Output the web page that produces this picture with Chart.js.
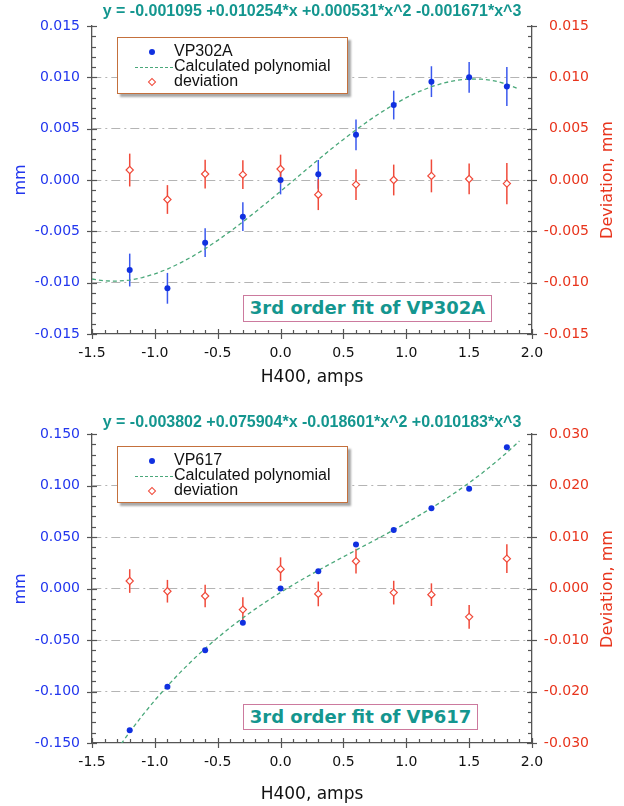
<!DOCTYPE html>
<html>
<head>
<meta charset="utf-8">
<script src="https://cdn.jsdelivr.net/npm/chart.js@4.4.1/dist/chart.umd.min.js"></script>
<style>
html,body{margin:0;padding:0;background:#fff;}
#wrap{position:relative;width:624px;height:806px;overflow:hidden;}
canvas{position:absolute;left:0;}
.legend{position:absolute;left:117px;width:231px;height:57px;box-sizing:border-box;border:1.5px solid #c4703c;background:#fff;box-shadow:3px 3px 2px #a8a8a8;font-family:"Liberation Sans",sans-serif;font-size:16px;color:#111;}
.row{position:absolute;left:0;width:100%;height:16px;}
.row .t{position:absolute;left:56px;top:-2px;line-height:18px;white-space:nowrap;}
.dot{position:absolute;left:31px;top:5px;width:6px;height:6px;border-radius:50%;background:#1030e0;}
.dash{position:absolute;left:17px;top:8px;width:38px;height:0;border-top:1.2px dashed #4aa87a;}
.dia{position:absolute;left:31px;top:5px;width:4px;height:4px;border:1.2px solid #f04a3a;background:#fff;transform:rotate(45deg);}
.note{position:absolute;left:243px;box-sizing:border-box;border:1.5px solid #cc7a9e;background:#fff;font:bold 18px "DejaVu Sans",sans-serif;color:#14968f;text-align:center;white-space:nowrap;}
.yt{position:absolute;width:200px;height:20px;line-height:20px;text-align:center;font:16px "DejaVu Sans",sans-serif;transform:rotate(-90deg);transform-origin:50% 50%;white-space:nowrap;}
</style>
</head>
<body>
<div id="wrap">
  <canvas id="c1" width="624" height="400" style="top:0"></canvas>
  <canvas id="c2" width="624" height="406" style="top:400px"></canvas>

  <div class="legend" style="top:37px">
    <div class="row" style="top:6px"><span class="dot"></span><span class="t">VP302A</span></div>
    <div class="row" style="top:21px"><span class="dash"></span><span class="t">Calculated polynomial</span></div>
    <div class="row" style="top:36px"><span class="dia"></span><span class="t">deviation</span></div>
  </div>
  <div class="legend" style="top:446px">
    <div class="row" style="top:6px"><span class="dot"></span><span class="t">VP617</span></div>
    <div class="row" style="top:21px"><span class="dash"></span><span class="t">Calculated polynomial</span></div>
    <div class="row" style="top:36px"><span class="dia"></span><span class="t">deviation</span></div>
  </div>

  <div class="note" style="top:295px;width:249px;height:27px;line-height:24px">3rd order fit of VP302A</div>
  <div class="note" style="top:704px;width:235px;height:26px;line-height:23px">3rd order fit of VP617</div>

  <div class="yt" style="left:-80px;top:170px;color:#2236ee">mm</div>
  <div class="yt" style="left:507px;top:170px;color:#e8341c">Deviation, mm</div>
  <div class="yt" style="left:-80px;top:579px;color:#2236ee">mm</div>
  <div class="yt" style="left:507px;top:579px;color:#e8341c">Deviation, mm</div>
</div>

<script>
// ---------- data ----------
const currents = [-1.2, -0.9, -0.6, -0.3, 0.0, 0.3, 0.6, 0.9, 1.2, 1.5, 1.8];

// chart 1 : VP302A
const vp302a      = [-0.00877, -0.01055, -0.0061, -0.00357, 0.0, 0.00055, 0.0044, 0.0073, 0.00958, 0.0100, 0.0091];
const vp302aErr   = [0.0016, 0.0015, 0.0014, 0.0014, 0.0014, 0.0014, 0.0015, 0.0014, 0.0015, 0.0015, 0.0019];
const dev302a     = [0.00097, -0.0019, 0.00058, 0.00052, 0.00107, -0.00143, -0.00045, 0.0, 0.0004, 0.0001, -0.00035];
const dev302aErr  = [0.0016, 0.0014, 0.0014, 0.0014, 0.0014, 0.0015, 0.0015, 0.0015, 0.0016, 0.0015, 0.0020];
const curveX302   = [-1.5,-1.4,-1.3,-1.2,-1.1,-1.0,-0.9,-0.8,-0.7,-0.6,-0.5,-0.4,-0.3,-0.2,-0.1,0.0,0.1,0.2,0.3,0.4,0.5,0.6,0.7,0.8,0.9,1.0,1.1,1.2,1.3,1.4,1.5,1.6,1.7,1.8,1.9];
const curve302    = [-0.009641,-0.009825,-0.009857,-0.009748,-0.009507,-0.009147,-0.008676,-0.008102,-0.007440,-0.006695,-0.005880,-0.005005,-0.004078,-0.003112,-0.002113,-0.001095,-0.000067,0.000964,0.001984,0.002985,0.003956,0.004887,0.005770,0.006592,0.007346,0.008019,0.008603,0.009088,0.009461,0.009717,0.009841,0.009826,0.009662,0.009337,0.008844];

// chart 2 : VP617
const vp617       = [-0.1377, -0.0955, -0.0600, -0.0332, 0.0, 0.0168, 0.0428, 0.0569, 0.0780, 0.0968, 0.1371];
const dev617      = [0.00145, -0.00053, -0.00145, -0.0041, 0.00375, -0.00105, 0.0053, -0.0008, -0.0012, -0.0055, 0.0058];
const dev617Err   = [0.0023, 0.0022, 0.0022, 0.0024, 0.0023, 0.0024, 0.0024, 0.0023, 0.0022, 0.0023, 0.0028];
const curveX617   = [-1.3,-1.2,-1.1,-1.0,-0.9,-0.8,-0.7,-0.6,-0.5,-0.4,-0.3,-0.2,-0.1,0.0,0.1,0.2,0.3,0.4,0.5,0.6,0.7,0.8,0.9,1.0,1.1,1.2,1.3,1.4,1.5,1.6,1.7,1.8,1.9];
const curve617    = [-0.156285,-0.139268,-0.123357,-0.108490,-0.094606,-0.081644,-0.069542,-0.058240,-0.047677,-0.037792,-0.028522,-0.019808,-0.011588,-0.003802,0.003612,0.010716,0.017570,0.024236,0.030773,0.037244,0.043710,0.050230,0.056868,0.063684,0.070739,0.078094,0.085809,0.093948,0.102570,0.111735,0.121507,0.131945,0.143111];

const xTicks = [-1.5, -1.0, -0.5, 0.0, 0.5, 1.0, 1.5, 2.0];
const title1 = "y = -0.001095 +0.010254*x +0.000531*x^2 -0.001671*x^3";
const title2 = "y = -0.003802 +0.075904*x -0.018601*x^2 +0.010183*x^3";

// ---------- styling ----------
const BLUE = '#1030e0', BLUE_ERR = '#3a58ee', RED = '#f04a3a', GREEN = '#4aa87a';
const AXIS = '#555555', GRID = '#b4b4b4', TEAL = '#14968f';
const tickFont = {family: 'DejaVu Sans', size: 14};

const pts = (xs, ys) => xs.map((x, i) => ({x: x, y: ys[i]}));

const decor = {
  id: 'decor',
  beforeDatasetsDraw(chart) {
    const ctx = chart.ctx;
    chart.data.datasets.forEach((ds, di) => {
      if (!ds.errors) return;
      const meta = chart.getDatasetMeta(di);
      const ys = chart.scales[ds.yAxisID];
      ctx.save();
      ctx.strokeStyle = ds.errorColor;
      ctx.lineWidth = 1.5;
      meta.data.forEach((pt, i) => {
        const v = ds.data[i].y, e = ds.errors[i];
        ctx.beginPath();
        ctx.moveTo(pt.x, ys.getPixelForValue(v + e));
        ctx.lineTo(pt.x, ys.getPixelForValue(v - e));
        ctx.stroke();
      });
      ctx.restore();
    });
  },
  afterDraw(chart) {
    const ctx = chart.ctx, a = chart.chartArea;
    ctx.save();
    ctx.strokeStyle = AXIS;
    ctx.lineWidth = 1.2;
    const minorY = (scale, x, dir) => {
      const o = scale.options;
      const step = o.ticks.stepSize / 5;
      const n = Math.round((o.max - o.min) / step);
      for (let k = 0; k <= n; k++) {
        const y = Math.round(scale.getPixelForValue(o.min + k * step)) + 0.5;
        ctx.beginPath();
        if (k % 5 === 0) { ctx.moveTo(x - 5, y); ctx.lineTo(x + 5, y); }
        else { ctx.moveTo(x, y); ctx.lineTo(x + 4 * dir, y); }
        ctx.stroke();
      }
    };
    minorY(chart.scales.y, a.left, 1);
    minorY(chart.scales.y2, a.right, -1);
    const xs = chart.scales.x, xo = xs.options;
    const xstep = xo.ticks.stepSize / 5;
    const nx = Math.round((xo.max - xo.min) / xstep);
    for (let k = 0; k <= nx; k++) {
      const x = Math.round(xs.getPixelForValue(xo.min + k * xstep)) + 0.5;
      ctx.beginPath();
      if (k % 5 === 0) { ctx.moveTo(x, a.bottom - 5); ctx.lineTo(x, a.bottom + 5); }
      else { ctx.moveTo(x, a.bottom); ctx.lineTo(x, a.bottom - 4); }
      ctx.stroke();
    }
    ctx.restore();
  }
};

function makeChart(id, cfg) {
  const yMax = cfg.yMax, y2Max = cfg.y2Max;
  const datasets = [
    {label: cfg.name, data: pts(currents, cfg.meas), yAxisID: 'y', showLine: false,
     pointStyle: 'circle', pointRadius: 3, pointBackgroundColor: BLUE, pointBorderColor: BLUE, pointBorderWidth: 0,
     errors: cfg.measErr, errorColor: BLUE_ERR, order: 2},
    {label: 'Calculated polynomial', data: pts(cfg.curveX, cfg.curve), yAxisID: 'y', showLine: true,
     borderColor: GREEN, borderWidth: 1.3, borderDash: [4, 3], pointRadius: 0, tension: 0, fill: false, order: 3},
    {label: 'deviation', data: pts(currents, cfg.dev), yAxisID: 'y2', showLine: false,
     pointStyle: 'rectRot', pointRadius: 3.6, pointBackgroundColor: '#ffffff', pointBorderColor: RED, pointBorderWidth: 1.2,
     errors: cfg.devErr, errorColor: RED, order: 1}
  ];
  const gridColor = (max) => (c) => (c.tick && Math.abs(Math.abs(c.tick.value) - max) < max * 1e-6) ? 'rgba(0,0,0,0)' : GRID;
  return new Chart(document.getElementById(id), {
    type: 'scatter',
    data: {datasets: datasets},
    plugins: [decor],
    options: {
      responsive: false, animation: false, devicePixelRatio: 1,
      layout: {padding: {left: 35, right: 35, top: 0, bottom: 0}},
      plugins: {
        legend: {display: false}, tooltip: {enabled: false},
        title: {display: true, text: cfg.title, color: TEAL,
                font: {family: 'Liberation Sans', size: 16, weight: 'bold', lineHeight: 1.2},
                padding: cfg.titlePad}
      },
      scales: {
        x: {type: 'linear', position: 'bottom', min: -1.5, max: 2.0,
            afterFit: s => { s.height = cfg.xHeight; },
            afterBuildTicks: s => { s.ticks = xTicks.map(v => ({value: v})); },
            ticks: {stepSize: 0.5, padding: 11, color: '#111', font: tickFont, maxRotation: 0,
                    callback: v => Number(v).toFixed(1)},
            grid: {display: true, drawOnChartArea: false, drawTicks: false},
            border: {display: true, color: AXIS, width: 1.3},
            title: {display: true, text: 'H400, amps', color: '#111',
                    font: {family: 'DejaVu Sans', size: 17, lineHeight: 1.2},
                    padding: {top: 0, bottom: cfg.xTitlePad}}},
        y: {type: 'linear', position: 'left', min: -yMax, max: yMax,
            afterFit: s => { s.width = 57; },
            ticks: {stepSize: yMax / 3, padding: 12, color: '#2236ee', font: tickFont,
                    callback: v => (Math.abs(v) < 1e-12 ? 0 : v).toFixed(3)},
            grid: {display: true, drawOnChartArea: true, drawTicks: false, color: gridColor(yMax), lineWidth: 1,
                   borderDash: [9, 4, 2, 4]},
            border: {display: true, color: AXIS, width: 1.3, dash: [9, 4, 2, 4]}},
        y2: {type: 'linear', position: 'right', min: -y2Max, max: y2Max,
            afterFit: s => { s.width = 57; },
            ticks: {stepSize: y2Max / 3, padding: 12, color: '#e8341c', font: tickFont, crossAlign: 'far',
                    callback: v => (Math.abs(v) < 1e-12 ? 0 : v).toFixed(3)},
            grid: {display: true, drawOnChartArea: false, drawTicks: false},
            border: {display: true, color: AXIS, width: 1.3}}
      }
    }
  });
}

makeChart('c1', {name: 'VP302A', meas: vp302a, measErr: vp302aErr, dev: dev302a, devErr: dev302aErr,
  curveX: curveX302, curve: curve302, yMax: 0.015, y2Max: 0.015, title: title1,
  titlePad: {top: 2.4, bottom: 4.4}, xHeight: 66, xTitlePad: 11.8});
makeChart('c2', {name: 'VP617', meas: vp617, measErr: null, dev: dev617, devErr: dev617Err,
  curveX: curveX617, curve: curve617, yMax: 0.15, y2Max: 0.03, title: title2,
  titlePad: {top: 13.4, bottom: 1.4}, xHeight: 63, xTitlePad: 0.8});
</script>
</body>
</html>
